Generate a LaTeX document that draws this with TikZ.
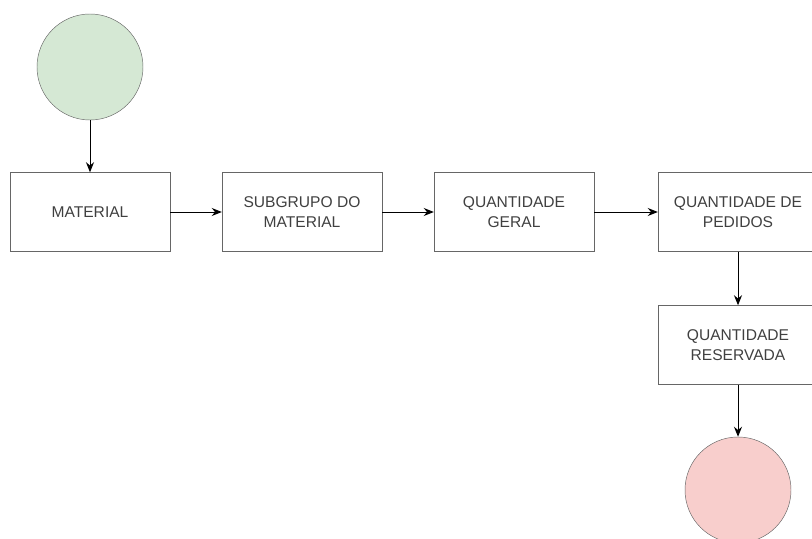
\documentclass[tikz,border=0pt]{standalone}
\usepackage{fontspec}
\setmainfont{Liberation Sans}
\usetikzlibrary{positioning,arrows.meta}

\definecolor{inicioverde}{HTML}{D5E8D4}
\definecolor{fimvermelho}{HTML}{F8CECC}
\definecolor{bordacinza}{HTML}{666666}
\definecolor{textocinza}{HTML}{404040}

\tikzset{
    etapa/.style={rectangle, draw=bordacinza, fill=white, minimum width=4.8cm, minimum height=2.37cm,
        align=center, text=textocinza, font=\fontsize{13.3}{17.5}\selectfont, inner sep=0pt},
    evento/.style={circle, draw=bordacinza, minimum size=3.18cm, inner sep=0pt},
    seta/.style={-{Stealth[length=3mm,width=2.4mm]}, thick, black}
}

\begin{document}
\begin{tikzpicture}[x=0.03cm,y=-0.03cm]
                \newcommand{\linha}{212}
                \newcommand{\colfim}{738}

                \useasboundingbox (0,0) rectangle (812,539);
                \clip (0,0) rectangle (812,539);

                % Draw start and end events
                \node[evento, fill=inicioverde] (inicio) at (90,67) {};
                \node[evento, fill=fimvermelho] (fim) at (\colfim,490) {};

                % Draw process steps
                \foreach \nome/\x/\y/\texto in {material/90/\linha/{MATERIAL},
                                                subgrupo/302/\linha/{SUBGRUPO DO\\MATERIAL},
                                                geral/514/\linha/{QUANTIDADE\\GERAL},
                                                pedidos/\colfim/\linha/{QUANTIDADE DE\\PEDIDOS},
                                                reservada/\colfim/345/{QUANTIDADE\\RESERVADA}} {
                    \node[etapa] (\nome) at (\x,\y) {\texto};
                }

                % Draw arrows
                \foreach \de/\para in {inicio/material, material/subgrupo, subgrupo/geral,
                                       geral/pedidos, pedidos/reservada, reservada/fim} {
                    \draw[seta] (\de) -- (\para);
                }
            \end{tikzpicture}
\end{document}
